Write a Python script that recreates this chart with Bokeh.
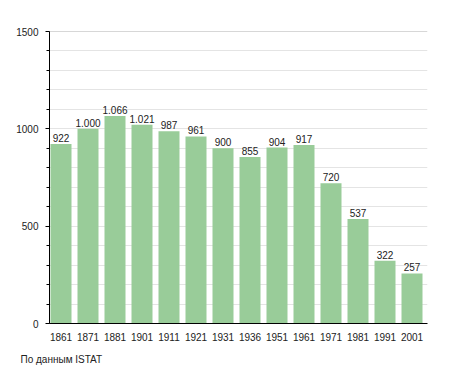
from bokeh.plotting import figure
from bokeh.models import ColumnDataSource, Range1d, FixedTicker, SingleIntervalTicker, Span, Title
from bokeh.embed import file_html
from bokeh.resources import INLINE

years = ["1861", "1871", "1881", "1901", "1911", "1921", "1931", "1936", "1951", "1961", "1971", "1981", "1991", "2001"]
population = [922, 1000, 1066, 1021, 987, 961, 900, 855, 904, 917, 720, 537, 322, 257]
y_max = 1500
source_note = "По данным  ISTAT"

FONT = "Liberation Sans"
n = len(years)
bar_w = 21 / 27
centers = [i + (1 + 10.5) / 27 for i in range(n)]
labels = [f"{v:,}".replace(",", ".") for v in population]

src = ColumnDataSource(dict(x=centers, top=population, label=labels))

p = figure(width=439, height=373, output_backend="svg", toolbar_location=None,
           x_range=Range1d(0, n), y_range=Range1d(0, y_max),
           min_border_left=49, min_border_right=12, min_border_top=31, min_border_bottom=10)
p.outline_line_color = None
p.background_fill_color = "white"

p.vbar(x="x", top="top", width=bar_w, source=src, fill_color="#99cc99", line_color=None)
p.text(x="x", y="top", text="label", source=src, text_align="center", text_baseline="bottom",
       y_offset=-2, text_font_size="10px", text_color="#222222", text_font={"value": FONT})

# y axis
p.yaxis.ticker = SingleIntervalTicker(interval=500, num_minor_ticks=5)
p.yaxis.axis_line_color = "black"
p.yaxis.major_tick_line_color = "black"
p.yaxis.minor_tick_line_color = "black"
p.yaxis.major_tick_out = 4
p.yaxis.major_tick_in = 0
p.yaxis.minor_tick_out = 3
p.yaxis.minor_tick_in = 0
p.yaxis.major_label_standoff = 7
p.yaxis.major_label_text_font = FONT
p.yaxis.major_label_text_font_size = "10px"
p.yaxis.major_label_text_color = "#222222"

# x axis
p.xaxis.ticker = FixedTicker(ticks=centers)
p.xaxis.major_label_overrides = {c: y for c, y in zip(centers, years)}
p.xaxis.axis_line_color = "black"
p.xaxis.major_tick_line_color = None
p.xaxis.minor_tick_line_color = None
p.xaxis.major_label_standoff = 3
p.xaxis.major_label_text_font = FONT
p.xaxis.major_label_text_font_size = "10px"
p.xaxis.major_label_text_color = "#222222"

p.xgrid.grid_line_color = None
p.ygrid.ticker = SingleIntervalTicker(interval=100)
p.ygrid.grid_line_color = "#e4e4e4"
p.add_layout(Span(location=y_max, dimension="width", line_color="#b0b0b0", line_width=1))

t = Title(text=source_note, align="left", text_font=FONT, text_font_size="10px",
          text_font_style="normal", text_color="#222222", offset=-29, standoff=17)
p.add_layout(t, "below")

open("out.html", "w").write(file_html(p, INLINE))
